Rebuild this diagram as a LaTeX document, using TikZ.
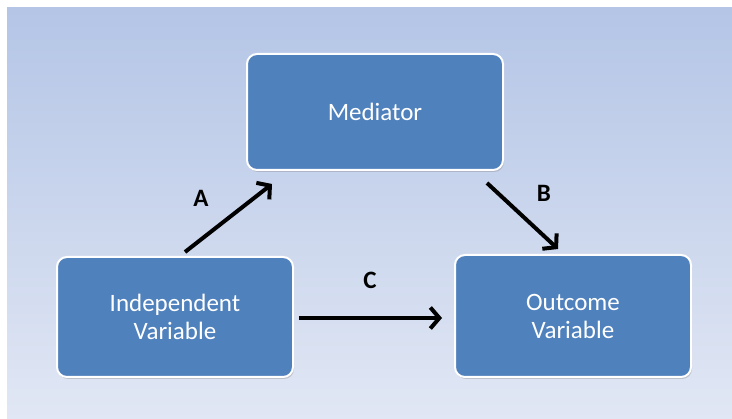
\documentclass[tikz,border=0pt]{standalone}
\usepackage{fontspec}
\setmainfont{Carlito}
\usetikzlibrary{arrows.meta,shadows}
\definecolor{boxblue}{RGB}{79,129,189}
\definecolor{bgtop}{RGB}{180,197,230}
\definecolor{bgbottom}{RGB}{225,231,244}
\begin{document}
\begin{tikzpicture}[x=1pt,y=-1pt]
    \tikzstyle{box} = [draw=white, line width=2pt, fill=boxblue, rounded corners=10pt, text=white, align=center, font=\fontsize{25}{28}\selectfont, drop shadow={shadow xshift=1pt, shadow yshift=-2pt, opacity=0.35}]
    \tikzstyle{arrow} = [line width=4pt, -{Straight Barb[length=9pt,width=21pt]}]
    \tikzstyle{path label} = [font=\fontsize{25}{28}\selectfont\bfseries]
    \useasboundingbox (0,0) rectangle (732,419);
    % Background
    \shade [top color=bgtop, bottom color=bgbottom] (7,8) rectangle (732,419);

    % Top box
    \node [box, minimum width=256pt, minimum height=116pt] (Med) at (375,112) {Mediator};

    % Lower left box
    \node [box, minimum width=236pt, minimum height=120pt] (Indep) at (175,317) {Independent\\Variable};

    % Lower right box
    \node [box, minimum width=236pt, minimum height=122pt] (Out) at (573,316) {Outcome\\Variable};

    % Path A
    \draw [arrow] ([xshift=10pt,yshift=4pt]Indep.north) -- ([xshift=-103pt,yshift=-13pt]Med.south);
    \node [path label] (labA) at (201,198) {A};

    % Path B
    \draw [arrow] ([xshift=112pt,yshift=-12pt]Med.south) -- ([xshift=-15pt,yshift=5pt]Out.north);
    \node [path label] (labB) at (544,193) {B};

    % Path C
    \draw [arrow] ([xshift=5pt,yshift=-1pt]Indep.east) -- ([xshift=-12pt,yshift=-1pt]Indep.east -| Out.west);
    \node [path label] (labC) at (370,280) {C};
\end{tikzpicture}
\end{document}
